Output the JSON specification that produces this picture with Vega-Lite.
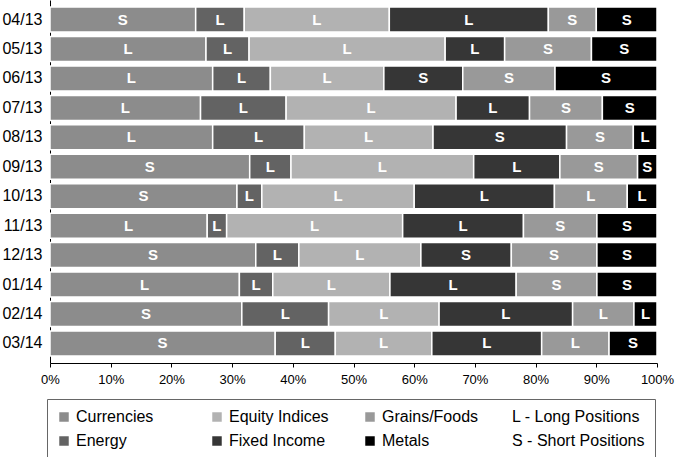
{
  "$schema": "https://vega.github.io/schema/vega-lite/v6.json",
  "autosize": {"type": "none"},
  "width": 607,
  "height": 363,
  "padding": {"left": 50, "top": 0, "right": 18, "bottom": 94},
  "background": "white",
  "config": {
    "view": {"stroke": null},
    "font": "Liberation Sans"
  },
  "data": {
    "values": [
      {"month": "04/13", "category": "Currencies", "value": 24.0, "pos": "S", "posName": "S - Short Positions"},
      {"month": "04/13", "category": "Energy", "value": 8.0, "pos": "L", "posName": "L - Long Positions"},
      {"month": "04/13", "category": "Equity Indices", "value": 23.9, "pos": "L", "posName": "L - Long Positions"},
      {"month": "04/13", "category": "Fixed Income", "value": 26.2, "pos": "L", "posName": "L - Long Positions"},
      {"month": "04/13", "category": "Grains/Foods", "value": 7.9, "pos": "S", "posName": "S - Short Positions"},
      {"month": "04/13", "category": "Metals", "value": 10.0, "pos": "S", "posName": "S - Short Positions"},
      {"month": "05/13", "category": "Currencies", "value": 25.7, "pos": "L", "posName": "L - Long Positions"},
      {"month": "05/13", "category": "Energy", "value": 7.1, "pos": "L", "posName": "L - Long Positions"},
      {"month": "05/13", "category": "Equity Indices", "value": 32.3, "pos": "L", "posName": "L - Long Positions"},
      {"month": "05/13", "category": "Fixed Income", "value": 9.8, "pos": "L", "posName": "L - Long Positions"},
      {"month": "05/13", "category": "Grains/Foods", "value": 14.3, "pos": "S", "posName": "S - Short Positions"},
      {"month": "05/13", "category": "Metals", "value": 10.8, "pos": "S", "posName": "S - Short Positions"},
      {"month": "06/13", "category": "Currencies", "value": 26.8, "pos": "L", "posName": "L - Long Positions"},
      {"month": "06/13", "category": "Energy", "value": 9.5, "pos": "L", "posName": "L - Long Positions"},
      {"month": "06/13", "category": "Equity Indices", "value": 18.7, "pos": "L", "posName": "L - Long Positions"},
      {"month": "06/13", "category": "Fixed Income", "value": 13.0, "pos": "S", "posName": "S - Short Positions"},
      {"month": "06/13", "category": "Grains/Foods", "value": 15.2, "pos": "S", "posName": "S - Short Positions"},
      {"month": "06/13", "category": "Metals", "value": 16.8, "pos": "S", "posName": "S - Short Positions"},
      {"month": "07/13", "category": "Currencies", "value": 24.8, "pos": "L", "posName": "L - Long Positions"},
      {"month": "07/13", "category": "Energy", "value": 14.1, "pos": "L", "posName": "L - Long Positions"},
      {"month": "07/13", "category": "Equity Indices", "value": 28.0, "pos": "L", "posName": "L - Long Positions"},
      {"month": "07/13", "category": "Fixed Income", "value": 12.1, "pos": "L", "posName": "L - Long Positions"},
      {"month": "07/13", "category": "Grains/Foods", "value": 12.0, "pos": "S", "posName": "S - Short Positions"},
      {"month": "07/13", "category": "Metals", "value": 9.0, "pos": "S", "posName": "S - Short Positions"},
      {"month": "08/13", "category": "Currencies", "value": 26.8, "pos": "L", "posName": "L - Long Positions"},
      {"month": "08/13", "category": "Energy", "value": 15.1, "pos": "L", "posName": "L - Long Positions"},
      {"month": "08/13", "category": "Equity Indices", "value": 21.2, "pos": "L", "posName": "L - Long Positions"},
      {"month": "08/13", "category": "Fixed Income", "value": 22.0, "pos": "S", "posName": "S - Short Positions"},
      {"month": "08/13", "category": "Grains/Foods", "value": 11.0, "pos": "S", "posName": "S - Short Positions"},
      {"month": "08/13", "category": "Metals", "value": 3.9, "pos": "L", "posName": "L - Long Positions"},
      {"month": "09/13", "category": "Currencies", "value": 32.9, "pos": "S", "posName": "S - Short Positions"},
      {"month": "09/13", "category": "Energy", "value": 6.8, "pos": "L", "posName": "L - Long Positions"},
      {"month": "09/13", "category": "Equity Indices", "value": 30.1, "pos": "L", "posName": "L - Long Positions"},
      {"month": "09/13", "category": "Fixed Income", "value": 14.2, "pos": "L", "posName": "L - Long Positions"},
      {"month": "09/13", "category": "Grains/Foods", "value": 12.8, "pos": "S", "posName": "S - Short Positions"},
      {"month": "09/13", "category": "Metals", "value": 3.2, "pos": "S", "posName": "S - Short Positions"},
      {"month": "10/13", "category": "Currencies", "value": 30.8, "pos": "S", "posName": "S - Short Positions"},
      {"month": "10/13", "category": "Energy", "value": 4.1, "pos": "L", "posName": "L - Long Positions"},
      {"month": "10/13", "category": "Equity Indices", "value": 25.1, "pos": "L", "posName": "L - Long Positions"},
      {"month": "10/13", "category": "Fixed Income", "value": 23.1, "pos": "L", "posName": "L - Long Positions"},
      {"month": "10/13", "category": "Grains/Foods", "value": 12.0, "pos": "L", "posName": "L - Long Positions"},
      {"month": "10/13", "category": "Metals", "value": 4.9, "pos": "L", "posName": "L - Long Positions"},
      {"month": "11/13", "category": "Currencies", "value": 25.9, "pos": "L", "posName": "L - Long Positions"},
      {"month": "11/13", "category": "Energy", "value": 3.2, "pos": "L", "posName": "L - Long Positions"},
      {"month": "11/13", "category": "Equity Indices", "value": 29.0, "pos": "L", "posName": "L - Long Positions"},
      {"month": "11/13", "category": "Fixed Income", "value": 19.9, "pos": "L", "posName": "L - Long Positions"},
      {"month": "11/13", "category": "Grains/Foods", "value": 12.1, "pos": "S", "posName": "S - Short Positions"},
      {"month": "11/13", "category": "Metals", "value": 9.9, "pos": "S", "posName": "S - Short Positions"},
      {"month": "12/13", "category": "Currencies", "value": 33.9, "pos": "S", "posName": "S - Short Positions"},
      {"month": "12/13", "category": "Energy", "value": 7.1, "pos": "L", "posName": "L - Long Positions"},
      {"month": "12/13", "category": "Equity Indices", "value": 20.1, "pos": "L", "posName": "L - Long Positions"},
      {"month": "12/13", "category": "Fixed Income", "value": 14.9, "pos": "S", "posName": "S - Short Positions"},
      {"month": "12/13", "category": "Grains/Foods", "value": 14.1, "pos": "S", "posName": "S - Short Positions"},
      {"month": "12/13", "category": "Metals", "value": 9.9, "pos": "S", "posName": "S - Short Positions"},
      {"month": "01/14", "category": "Currencies", "value": 31.2, "pos": "L", "posName": "L - Long Positions"},
      {"month": "01/14", "category": "Energy", "value": 5.5, "pos": "L", "posName": "L - Long Positions"},
      {"month": "01/14", "category": "Equity Indices", "value": 19.3, "pos": "L", "posName": "L - Long Positions"},
      {"month": "01/14", "category": "Fixed Income", "value": 20.8, "pos": "L", "posName": "L - Long Positions"},
      {"month": "01/14", "category": "Grains/Foods", "value": 13.3, "pos": "S", "posName": "S - Short Positions"},
      {"month": "01/14", "category": "Metals", "value": 9.9, "pos": "S", "posName": "S - Short Positions"},
      {"month": "02/14", "category": "Currencies", "value": 31.6, "pos": "S", "posName": "S - Short Positions"},
      {"month": "02/14", "category": "Energy", "value": 14.3, "pos": "L", "posName": "L - Long Positions"},
      {"month": "02/14", "category": "Equity Indices", "value": 18.2, "pos": "L", "posName": "L - Long Positions"},
      {"month": "02/14", "category": "Fixed Income", "value": 22.0, "pos": "L", "posName": "L - Long Positions"},
      {"month": "02/14", "category": "Grains/Foods", "value": 10.1, "pos": "L", "posName": "L - Long Positions"},
      {"month": "02/14", "category": "Metals", "value": 3.8, "pos": "L", "posName": "L - Long Positions"},
      {"month": "03/14", "category": "Currencies", "value": 37.1, "pos": "S", "posName": "S - Short Positions"},
      {"month": "03/14", "category": "Energy", "value": 9.9, "pos": "L", "posName": "L - Long Positions"},
      {"month": "03/14", "category": "Equity Indices", "value": 15.9, "pos": "L", "posName": "L - Long Positions"},
      {"month": "03/14", "category": "Fixed Income", "value": 18.1, "pos": "L", "posName": "L - Long Positions"},
      {"month": "03/14", "category": "Grains/Foods", "value": 11.1, "pos": "L", "posName": "L - Long Positions"},
      {"month": "03/14", "category": "Metals", "value": 7.9, "pos": "S", "posName": "S - Short Positions"}
    ]
  },
  "encoding": {
    "y": {
      "field": "month",
      "type": "nominal",
      "sort": null,
      "scale": {"paddingInner": 0.15, "paddingOuter": 0.24},
      "axis": {
        "title": null,
        "ticks": false,
        "labelPadding": 8,
        "labelFontSize": 16,
        "labelColor": "black",
        "labelFont": "Liberation Sans",
        "domainColor": "black",
        "domainWidth": 1
      }
    }
  },
  "layer": [
    {
      "mark": {"type": "bar", "stroke": "white", "strokeWidth": 1.5},
      "encoding": {
        "x": {
          "field": "value",
          "type": "quantitative",
          "stack": "normalize",
          "scale": {"domain": [0, 1], "nice": false},
          "axis": {
            "title": null,
            "grid": false,
            "values": [0, 0.1, 0.2, 0.3, 0.4, 0.5, 0.6, 0.7, 0.8, 0.9, 1],
            "format": ".0%",
            "labelFlush": false,
            "labelFontSize": 13,
            "labelColor": "black",
            "labelFont": "Liberation Sans",
            "tickSize": 4,
            "tickColor": "black",
            "labelPadding": 6,
            "domainColor": "black",
            "domainWidth": 1
          }
        },
        "order": {"field": "category", "sort": "ascending"},
        "color": {
          "field": "category",
          "type": "nominal",
          "scale": {
            "domain": ["Currencies", "Energy", "Equity Indices", "Fixed Income", "Grains/Foods", "Metals"],
            "range": ["#8c8c8c", "#636363", "#b2b2b2", "#363636", "#999999", "#000000"]
          },
          "legend": {
            "title": null,
            "orient": "none",
            "legendX": -4,
            "legendY": 399,
            "columns": 3,
            "gridAlign": "all",
            "columnPadding": 33,
            "rowPadding": 8,
            "padding": 10,
            "symbolType": "square",
            "symbolSize": 90,
            "symbolStrokeWidth": 0,
            "symbolOpacity": 1,
            "labelFontSize": 16,
            "labelFont": "Liberation Sans",
            "labelColor": "black",
            "labelLimit": 200
          }
        }
      }
    },
    {
      "mark": {"type": "text", "color": "white", "fontWeight": "bold", "fontSize": 15, "font": "Liberation Sans"},
      "encoding": {
        "x": {
          "field": "value",
          "type": "quantitative",
          "stack": "normalize",
          "bandPosition": 0.5
        },
        "order": {"field": "category", "sort": "ascending"},
        "detail": {"field": "category", "type": "nominal"},
        "text": {"field": "pos", "type": "nominal"},
        "opacity": {
          "field": "posName",
          "type": "ordinal",
          "scale": {"domain": ["L - Long Positions", "S - Short Positions"], "range": [1, 1]},
          "legend": {
            "title": " ",
            "titleOrient": "left",
            "titleFontSize": 1,
            "titlePadding": 435,
            "orient": "none",
            "legendX": -3,
            "legendY": 399,
            "columns": 1,
            "rowPadding": 8,
            "padding": 10,
            "strokeColor": "#666666",
            "symbolType": "square",
            "symbolSize": 90,
            "symbolStrokeWidth": 0,
            "symbolFillColor": "white",
            "labelFontSize": 16,
            "labelFont": "Liberation Sans",
            "labelColor": "black",
            "labelLimit": 200
          }
        }
      }
    }
  ]
}
